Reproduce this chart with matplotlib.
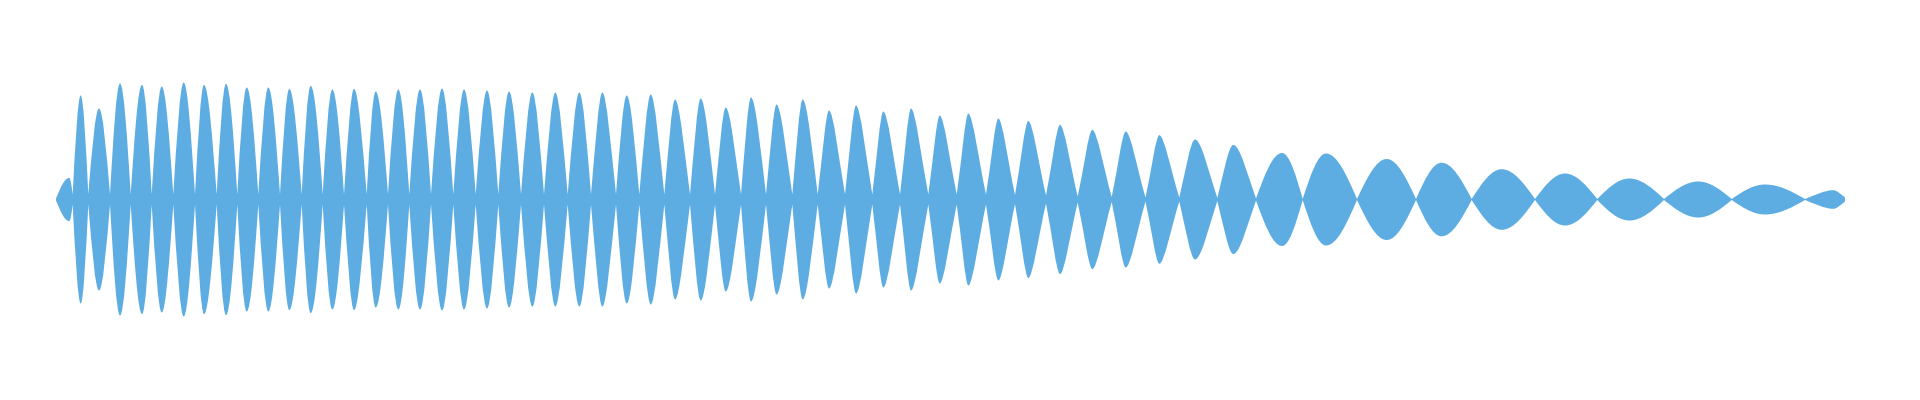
import numpy as np
import matplotlib
matplotlib.use('Agg')
from matplotlib import pyplot as plt
from matplotlib.path import Path
from matplotlib.patches import PathPatch

# zero crossings of the envelope (x in px) and the neck height left at each one
cross_x = [56, 72.7, 88.3, 110, 130.7, 151.7, 173.3, 195, 216.7, 237.3,
           258.3, 280, 301.7, 322.7, 344, 366.7, 388, 409.3, 431, 453.3,
           475.7, 498.3, 521, 544, 567.7, 591, 616, 639.3, 664.3, 690,
           715, 741, 766, 792.3, 817.7, 845, 872.3, 900, 928.3, 956.7,
           986, 1015, 1046, 1077.7, 1111.7, 1145.5, 1179.3, 1217.3, 1256, 1302.7,
           1357, 1416, 1471.7, 1535, 1597.3, 1664, 1731.7, 1805, 1845]
neck_h = [1, 5, 5, 5, 5, 5, 5, 5, 5, 5,
          5, 5, 5, 5, 5, 5, 5, 5, 5, 5,
          5, 5, 5, 5, 5, 5, 5, 5, 5, 5,
          5, 5, 5, 5, 5, 5, 5, 5, 5, 5,
          5, 4.5, 4, 3, 2.5, 2, 2, 1.5, 1, 0.5,
          0.5, 0.5, 0.5, 0.5, 0.5, 0.5, 0.5, 0.5, 2]

# peak of each lobe
peak_x = [69.3, 80.7, 99, 120, 142, 161.7, 183.7, 204, 226, 246.7,
          268.3, 289.3, 310.7, 332.3, 354, 375.7, 398.3, 420, 442, 464,
          487, 509, 532.3, 555.3, 579.3, 602.3, 626.7, 650.7, 675, 700.7,
          725.7, 751, 776.5, 802.7, 829, 856, 883.3, 911, 939.7, 968.3,
          998.3, 1028.3, 1060, 1092.3, 1125.7, 1159.3, 1195, 1233.3, 1282, 1326,
          1386.7, 1441.5, 1501.7, 1565, 1629.3, 1698.3, 1765, 1833.3]
peak_h = [21.6, 104, 91, 116, 114.6, 113, 117, 114.6, 115.6, 112,
          112, 110.6, 113.6, 110, 110.6, 108, 110, 110, 111, 110,
          109, 108, 107, 107, 107, 107, 104, 105, 100, 101,
          92, 102, 95, 100, 89, 94, 88, 91, 84, 86,
          81, 78.5, 74.6, 69.6, 68, 64.3, 60, 54.6, 46.5, 46,
          40.5, 36.8, 30.3, 26, 21, 18, 15, 9.3]

color = '#5dade2'


def half_lobe(a, na, p, h, w):
    # control points of one half lobe, going from crossing a to the peak p
    # mostly a sine arch; the middle stretch is closer to a round-topped triangle
    s = min((w - 21) / 8.0, (45 - w) / 10.0)
    s = min(max(s, 0), 1)
    kx = 0.326 + (0.4 - 0.326) * s
    ky = 0.512 + (0.4 - 0.512) * s
    mx = 0.643 + (0.75 - 0.643) * s
    return [(a + kx * (p - a), na + ky * (h - na)),
            (a + mx * (p - a), h),
            (p, h)]


verts = [(cross_x[0], neck_h[0])]
for i in range(len(peak_x)):
    a, na = cross_x[i], neck_h[i]
    b, nb = cross_x[i + 1], neck_h[i + 1]
    p, h = peak_x[i], peak_h[i]
    w = b - a
    verts += half_lobe(a, na, p, h, w)
    back = half_lobe(b, nb, p, h, w)
    verts += [back[1], back[0], (b, nb)]
codes = [Path.MOVETO] + [Path.CURVE4] * (len(verts) - 1)

# lower edge is the mirror, walked backwards
lower = [(x, -y) for x, y in verts[::-1]]
all_verts = verts + lower + [verts[0]]
all_codes = codes + [Path.LINETO] + [Path.CURVE4] * (len(lower) - 1) + [Path.CLOSEPOLY]

fig = plt.figure(figsize=(19.2, 4), dpi=100)
ax = fig.add_axes([0, 0, 1, 1])
ax.add_patch(PathPatch(Path(all_verts, all_codes), facecolor=color, edgecolor='none'))
ax.set_xlim(0, 1920)
ax.set_ylim(-200.5, 199.5)
ax.axis('off')

plt.savefig('out.png', dpi=100, facecolor='white')
